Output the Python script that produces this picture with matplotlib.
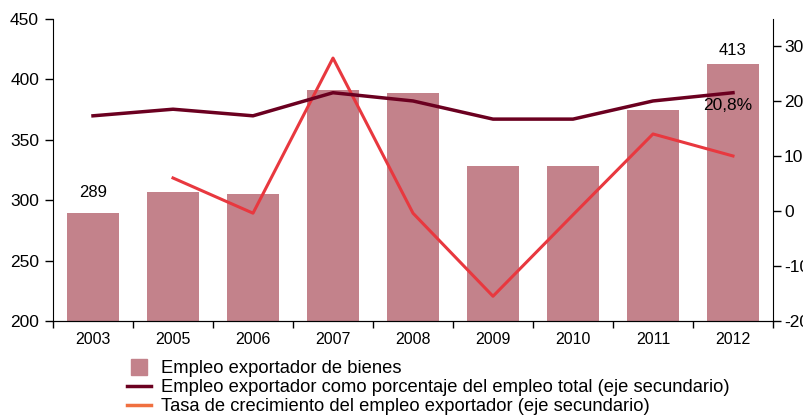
import matplotlib
matplotlib.use("Agg")
import matplotlib.pyplot as plt
from matplotlib.lines import Line2D
import numpy as np

plt.rcParams['font.family'] = ['Liberation Sans', 'DejaVu Sans']
plt.rcParams['axes.unicode_minus'] = False

years = ["2003", "2005", "2006", "2007", "2008", "2009", "2010", "2011", "2012"]
empleo = [289, 307, 305, 391, 389, 328, 328, 375, 413]
porcentaje = [17.3, 18.5, 17.3, 21.5, 20.0, 16.7, 16.7, 20.0, 21.5]
crecimiento = [np.nan, 6.0, -0.4, 27.8, -0.4, -15.5, -0.7, 14.0, 10.0]

bar_color = "#C3828B"
dark_color = "#6B0020"
red_color = "#E8383F"
legend_orange = "#F07040"

fig = plt.figure(figsize=(8.04, 4.16), dpi=100)
ax = fig.add_axes([53/804, 1-321/416, (773-53)/804, (321-19)/416])
x = np.arange(len(years))
ax.bar(x, empleo, width=0.65, color=bar_color, zorder=1)
ax.set_xlim(-0.5, len(years)-0.5)
ax.set_ylim(200, 450)
ax.set_yticks(range(200, 451, 50))
ax.set_xticks(x)
ax.set_xticklabels(years)
ax.set_xticks(np.arange(-0.5, len(years), 1), minor=True)
ax.tick_params(axis='x', which='major', length=0, labelsize=11.5, pad=8)
ax.tick_params(axis='x', which='minor', length=5, direction='out', width=1)
ax.tick_params(axis='y', length=6, width=1, labelsize=12.5, pad=4)
ax.spines['top'].set_visible(False)
ax.spines['right'].set_visible(False)

ax2 = ax.twinx()
ax2.set_ylim(-20, 34.9)
ax2.set_yticks(range(-20, 31, 10))
ax2.plot(x, porcentaje, color=dark_color, lw=2.5, zorder=3)
ax2.plot(x, crecimiento, color=red_color, lw=2.2, zorder=2)
ax2.tick_params(axis='y', length=6, width=1, labelsize=12.5, pad=2)
ax2.spines['top'].set_visible(False)
ax2.spines['left'].set_visible(False)

ax.annotate("289", (x[0], empleo[0]), xytext=(0, 21*0.72), textcoords='offset points',
            ha='center', va='center', fontsize=12)
ax.annotate("413", (x[-1], empleo[-1]), xytext=(0, 13*0.72), textcoords='offset points',
            ha='center', va='center', fontsize=12)
ax2.annotate("20,8%", (x[-1], porcentaje[-1]), xytext=(-5*0.72, -13*0.72),
             textcoords='offset points', ha='center', va='center', fontsize=12.5)

handles = [
    Line2D([0], [0], marker='s', color='none', markerfacecolor=bar_color,
           markeredgecolor=bar_color, markersize=12),
    Line2D([0], [0], color=dark_color, lw=2.5),
    Line2D([0], [0], color=legend_orange, lw=2.5),
]
labels = [
    "Empleo exportador de bienes",
    "Empleo exportador como porcentaje del empleo total (eje secundario)",
    "Tasa de crecimiento del empleo exportador (eje secundario)",
]
fig.legend(handles, labels, loc='upper left', bbox_to_anchor=(127/804, 1-360/416),
           frameon=False, fontsize=13.2, handlelength=1.3, handletextpad=0.55,
           labelspacing=0.12, borderpad=0, borderaxespad=0)

fig.savefig("out.png", dpi=100)
